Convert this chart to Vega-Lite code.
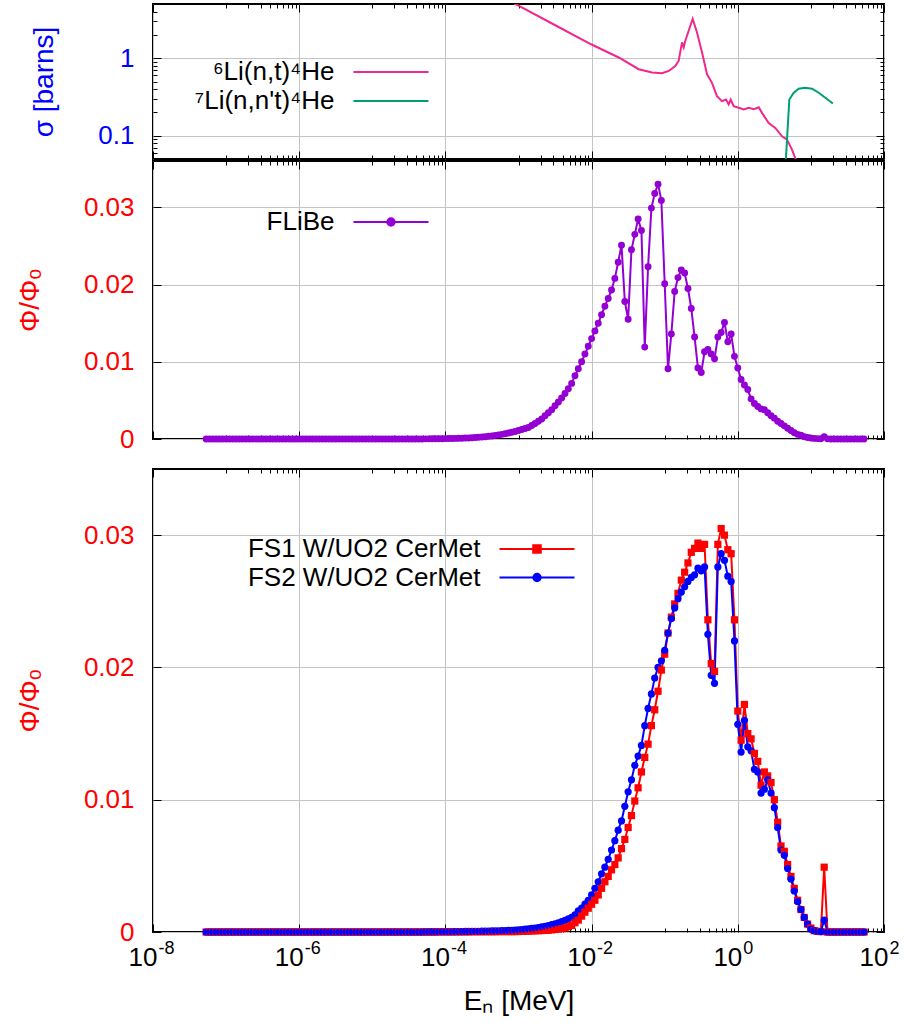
{
  "$schema": "https://vega.github.io/schema/vega-lite/v6.json",
  "padding": {"left": 15, "top": 2, "right": 20, "bottom": 5},
  "config": {
    "font": "Liberation Sans",
    "view": {"stroke": "black", "strokeWidth": 2},
    "axis": {"domain": false, "tickColor": "black", "tickWidth": 1, "gridColor": "#c4c4c4", "gridWidth": 1, "labelFont": "Liberation Sans", "labelFontSize": 26, "titleFont": "Liberation Sans", "titleFontSize": 28, "titleFontWeight": "normal", "labelColor": "black", "titleColor": "black", "labelFlush": false, "labelOverlap": false, "labelBound": false},
    "legend": {"padding": 0, "labelFont": "Liberation Sans", "labelFontSize": 26, "labelColor": "black", "labelAlign": "right", "labelOffset": -69.5, "labelLimit": 0, "symbolSize": 64, "symbolStrokeWidth": 2, "title": null, "orient": "none"}
  },
  "datasets": {
    "xs": [
      {"E": 1e-8, "sigma": 1502, "r": "⁶Li(n,t)⁴He"},
      {"E": 1e-7, "sigma": 475, "r": "⁶Li(n,t)⁴He"},
      {"E": 1e-6, "sigma": 150.2, "r": "⁶Li(n,t)⁴He"},
      {"E": 1e-5, "sigma": 47.5, "r": "⁶Li(n,t)⁴He"},
      {"E": 1e-4, "sigma": 15.02, "r": "⁶Li(n,t)⁴He"},
      {"E": 1e-3, "sigma": 4.75, "r": "⁶Li(n,t)⁴He"},
      {"E": 3e-3, "sigma": 2.74, "r": "⁶Li(n,t)⁴He"},
      {"E": 0.01, "sigma": 1.5, "r": "⁶Li(n,t)⁴He"},
      {"E": 0.0235, "sigma": 1.02, "r": "⁶Li(n,t)⁴He"},
      {"E": 0.0441, "sigma": 0.72, "r": "⁶Li(n,t)⁴He"},
      {"E": 0.067, "sigma": 0.652, "r": "⁶Li(n,t)⁴He"},
      {"E": 0.0918, "sigma": 0.638, "r": "⁶Li(n,t)⁴He"},
      {"E": 0.1135, "sigma": 0.684, "r": "⁶Li(n,t)⁴He"},
      {"E": 0.1396, "sigma": 0.794, "r": "⁶Li(n,t)⁴He"},
      {"E": 0.1552, "sigma": 0.92, "r": "⁶Li(n,t)⁴He"},
      {"E": 0.1726, "sigma": 1.6, "r": "⁶Li(n,t)⁴He"},
      {"E": 0.182, "sigma": 1.38, "r": "⁶Li(n,t)⁴He"},
      {"E": 0.1914, "sigma": 1.68, "r": "⁶Li(n,t)⁴He"},
      {"E": 0.2168, "sigma": 2.38, "r": "⁶Li(n,t)⁴He"},
      {"E": 0.2415, "sigma": 3.21, "r": "⁶Li(n,t)⁴He"},
      {"E": 0.2767, "sigma": 2.15, "r": "⁶Li(n,t)⁴He"},
      {"E": 0.3236, "sigma": 1.19, "r": "⁶Li(n,t)⁴He"},
      {"E": 0.3793, "sigma": 0.62, "r": "⁶Li(n,t)⁴He"},
      {"E": 0.4436, "sigma": 0.48, "r": "⁶Li(n,t)⁴He"},
      {"E": 0.5188, "sigma": 0.324, "r": "⁶Li(n,t)⁴He"},
      {"E": 0.6081, "sigma": 0.279, "r": "⁶Li(n,t)⁴He"},
      {"E": 0.6902, "sigma": 0.293, "r": "⁶Li(n,t)⁴He"},
      {"E": 0.7499, "sigma": 0.253, "r": "⁶Li(n,t)⁴He"},
      {"E": 0.8, "sigma": 0.293, "r": "⁶Li(n,t)⁴He"},
      {"E": 0.879, "sigma": 0.24, "r": "⁶Li(n,t)⁴He"},
      {"E": 1.028, "sigma": 0.229, "r": "⁶Li(n,t)⁴He"},
      {"E": 1.205, "sigma": 0.218, "r": "⁶Li(n,t)⁴He"},
      {"E": 1.409, "sigma": 0.229, "r": "⁶Li(n,t)⁴He"},
      {"E": 1.652, "sigma": 0.22, "r": "⁶Li(n,t)⁴He"},
      {"E": 1.932, "sigma": 0.233, "r": "⁶Li(n,t)⁴He"},
      {"E": 2.143, "sigma": 0.197, "r": "⁶Li(n,t)⁴He"},
      {"E": 2.648, "sigma": 0.146, "r": "⁶Li(n,t)⁴He"},
      {"E": 3.258, "sigma": 0.126, "r": "⁶Li(n,t)⁴He"},
      {"E": 4.027, "sigma": 0.098, "r": "⁶Li(n,t)⁴He"},
      {"E": 4.71, "sigma": 0.089, "r": "⁶Li(n,t)⁴He"},
      {"E": 5.51, "sigma": 0.066, "r": "⁶Li(n,t)⁴He"},
      {"E": 6.12, "sigma": 0.051, "r": "⁶Li(n,t)⁴He"},
      {"E": 7.5, "sigma": 0.04, "r": "⁶Li(n,t)⁴He"},
      {"E": 14.2, "sigma": 0.03, "r": "⁶Li(n,t)⁴He"},
      {"E": 20, "sigma": 0.027, "r": "⁶Li(n,t)⁴He"},
      {"E": 4.3, "sigma": 0.02, "r": "⁷Li(n,n't)⁴He"},
      {"E": 5.07, "sigma": 0.293, "r": "⁷Li(n,n't)⁴He"},
      {"E": 5.82, "sigma": 0.358, "r": "⁷Li(n,n't)⁴He"},
      {"E": 6.81, "sigma": 0.404, "r": "⁷Li(n,n't)⁴He"},
      {"E": 8.38, "sigma": 0.416, "r": "⁷Li(n,n't)⁴He"},
      {"E": 10.35, "sigma": 0.404, "r": "⁷Li(n,n't)⁴He"},
      {"E": 12.79, "sigma": 0.358, "r": "⁷Li(n,n't)⁴He"},
      {"E": 15.74, "sigma": 0.309, "r": "⁷Li(n,n't)⁴He"},
      {"E": 20, "sigma": 0.26, "r": "⁷Li(n,n't)⁴He"}
    ],
    "flux": [
      {"E": 5.335e-8, "FLiBe": 0, "FS1": 0, "FS2": 0},
      {"E": 5.924e-8, "FLiBe": 0, "FS1": 0, "FS2": 0},
      {"E": 6.577e-8, "FLiBe": 0, "FS1": 0, "FS2": 0},
      {"E": 7.303e-8, "FLiBe": 0, "FS1": 0, "FS2": 0},
      {"E": 8.108e-8, "FLiBe": 0, "FS1": 0, "FS2": 0},
      {"E": 9.003e-8, "FLiBe": 0, "FS1": 0, "FS2": 0},
      {"E": 1e-7, "FLiBe": 0, "FS1": 0, "FS2": 0},
      {"E": 1.11e-7, "FLiBe": 0, "FS1": 0, "FS2": 0},
      {"E": 1.233e-7, "FLiBe": 0, "FS1": 0, "FS2": 0},
      {"E": 1.369e-7, "FLiBe": 0, "FS1": 0, "FS2": 0},
      {"E": 1.52e-7, "FLiBe": 0, "FS1": 0, "FS2": 0},
      {"E": 1.688e-7, "FLiBe": 0, "FS1": 0, "FS2": 0},
      {"E": 1.874e-7, "FLiBe": 0, "FS1": 0, "FS2": 0},
      {"E": 2.08e-7, "FLiBe": 0, "FS1": 0, "FS2": 0},
      {"E": 2.31e-7, "FLiBe": 0, "FS1": 0, "FS2": 0},
      {"E": 2.565e-7, "FLiBe": 0, "FS1": 0, "FS2": 0},
      {"E": 2.848e-7, "FLiBe": 0, "FS1": 0, "FS2": 0},
      {"E": 3.162e-7, "FLiBe": 0, "FS1": 0, "FS2": 0},
      {"E": 3.51e-7, "FLiBe": 0, "FS1": 0, "FS2": 0},
      {"E": 3.898e-7, "FLiBe": 0, "FS1": 0, "FS2": 0},
      {"E": 4.328e-7, "FLiBe": 0, "FS1": 0, "FS2": 0},
      {"E": 4.805e-7, "FLiBe": 0, "FS1": 0, "FS2": 0},
      {"E": 5.335e-7, "FLiBe": 0, "FS1": 0, "FS2": 0},
      {"E": 5.924e-7, "FLiBe": 0, "FS1": 0, "FS2": 0},
      {"E": 6.577e-7, "FLiBe": 0, "FS1": 0, "FS2": 0},
      {"E": 7.303e-7, "FLiBe": 0, "FS1": 0, "FS2": 0},
      {"E": 8.108e-7, "FLiBe": 0, "FS1": 0, "FS2": 0},
      {"E": 9.003e-7, "FLiBe": 0, "FS1": 0, "FS2": 0},
      {"E": 1e-6, "FLiBe": 0, "FS1": 0, "FS2": 0},
      {"E": 1.11e-6, "FLiBe": 0, "FS1": 0, "FS2": 0},
      {"E": 1.233e-6, "FLiBe": 0, "FS1": 0, "FS2": 0},
      {"E": 1.369e-6, "FLiBe": 0, "FS1": 0, "FS2": 0},
      {"E": 1.52e-6, "FLiBe": 0, "FS1": 0, "FS2": 0},
      {"E": 1.688e-6, "FLiBe": 0, "FS1": 0, "FS2": 0},
      {"E": 1.874e-6, "FLiBe": 0, "FS1": 0, "FS2": 0},
      {"E": 2.08e-6, "FLiBe": 0, "FS1": 0, "FS2": 0},
      {"E": 2.31e-6, "FLiBe": 0, "FS1": 0, "FS2": 0},
      {"E": 2.565e-6, "FLiBe": 0, "FS1": 0, "FS2": 0},
      {"E": 2.848e-6, "FLiBe": 0, "FS1": 0, "FS2": 0},
      {"E": 3.162e-6, "FLiBe": 0, "FS1": 0, "FS2": 0},
      {"E": 3.51e-6, "FLiBe": 0, "FS1": 0, "FS2": 0},
      {"E": 3.898e-6, "FLiBe": 0, "FS1": 0, "FS2": 0},
      {"E": 4.328e-6, "FLiBe": 0, "FS1": 0, "FS2": 0},
      {"E": 4.805e-6, "FLiBe": 0, "FS1": 0, "FS2": 0},
      {"E": 5.335e-6, "FLiBe": 0, "FS1": 0, "FS2": 0},
      {"E": 5.924e-6, "FLiBe": 0, "FS1": 0, "FS2": 0},
      {"E": 6.577e-6, "FLiBe": 0, "FS1": 0, "FS2": 0},
      {"E": 7.303e-6, "FLiBe": 0, "FS1": 0, "FS2": 0},
      {"E": 8.108e-6, "FLiBe": 0, "FS1": 0, "FS2": 0},
      {"E": 9.003e-6, "FLiBe": 0, "FS1": 0, "FS2": 0},
      {"E": 1e-5, "FLiBe": 0, "FS1": 0, "FS2": 0},
      {"E": 1.11e-5, "FLiBe": 0, "FS1": 0, "FS2": 0},
      {"E": 1.233e-5, "FLiBe": 0, "FS1": 0, "FS2": 0},
      {"E": 1.369e-5, "FLiBe": 0, "FS1": 0, "FS2": 0},
      {"E": 1.52e-5, "FLiBe": 0, "FS1": 0, "FS2": 0},
      {"E": 1.688e-5, "FLiBe": 0, "FS1": 0, "FS2": 0},
      {"E": 1.874e-5, "FLiBe": 0, "FS1": 0, "FS2": 0},
      {"E": 2.08e-5, "FLiBe": 0, "FS1": 0, "FS2": 0},
      {"E": 2.31e-5, "FLiBe": 0, "FS1": 0, "FS2": 0},
      {"E": 2.565e-5, "FLiBe": 0, "FS1": 0, "FS2": 0},
      {"E": 2.848e-5, "FLiBe": 0, "FS1": 0, "FS2": 0},
      {"E": 3.162e-5, "FLiBe": 0, "FS1": 0, "FS2": 0},
      {"E": 3.51e-5, "FLiBe": 0, "FS1": 0, "FS2": 0},
      {"E": 3.898e-5, "FLiBe": 0.00001, "FS1": 0, "FS2": 0},
      {"E": 4.328e-5, "FLiBe": 0.00001, "FS1": 0, "FS2": 0},
      {"E": 4.805e-5, "FLiBe": 0.00001, "FS1": 0, "FS2": 0},
      {"E": 5.335e-5, "FLiBe": 0.00002, "FS1": 0, "FS2": 0.00001},
      {"E": 5.924e-5, "FLiBe": 0.00002, "FS1": 0, "FS2": 0.00001},
      {"E": 6.577e-5, "FLiBe": 0.00003, "FS1": 0, "FS2": 0.00001},
      {"E": 7.303e-5, "FLiBe": 0.00003, "FS1": 0, "FS2": 0.00001},
      {"E": 8.108e-5, "FLiBe": 0.00004, "FS1": 0.00001, "FS2": 0.00002},
      {"E": 9.003e-5, "FLiBe": 0.00004, "FS1": 0.00001, "FS2": 0.00002},
      {"E": 1e-4, "FLiBe": 0.00005, "FS1": 0.00001, "FS2": 0.00002},
      {"E": 1.11e-4, "FLiBe": 0.00006, "FS1": 0.00001, "FS2": 0.00002},
      {"E": 1.233e-4, "FLiBe": 0.00007, "FS1": 0.00001, "FS2": 0.00002},
      {"E": 1.369e-4, "FLiBe": 0.00008, "FS1": 0.00001, "FS2": 0.00003},
      {"E": 1.52e-4, "FLiBe": 0.00009, "FS1": 0.00001, "FS2": 0.00003},
      {"E": 1.688e-4, "FLiBe": 0.0001, "FS1": 0.00001, "FS2": 0.00003},
      {"E": 1.874e-4, "FLiBe": 0.00012, "FS1": 0.00001, "FS2": 0.00004},
      {"E": 2.08e-4, "FLiBe": 0.00014, "FS1": 0.00001, "FS2": 0.00004},
      {"E": 2.31e-4, "FLiBe": 0.00016, "FS1": 0.00002, "FS2": 0.00004},
      {"E": 2.565e-4, "FLiBe": 0.00019, "FS1": 0.00002, "FS2": 0.00005},
      {"E": 2.848e-4, "FLiBe": 0.00022, "FS1": 0.00002, "FS2": 0.00005},
      {"E": 3.162e-4, "FLiBe": 0.00026, "FS1": 0.00002, "FS2": 0.00006},
      {"E": 3.51e-4, "FLiBe": 0.0003, "FS1": 0.00002, "FS2": 0.00006},
      {"E": 3.898e-4, "FLiBe": 0.00035, "FS1": 0.00002, "FS2": 0.00007},
      {"E": 4.328e-4, "FLiBe": 0.0004, "FS1": 0.00002, "FS2": 0.00008},
      {"E": 4.805e-4, "FLiBe": 0.00046, "FS1": 0.00002, "FS2": 0.00008},
      {"E": 5.335e-4, "FLiBe": 0.00052, "FS1": 0.00003, "FS2": 0.00009},
      {"E": 5.924e-4, "FLiBe": 0.0006, "FS1": 0.00003, "FS2": 0.0001},
      {"E": 6.577e-4, "FLiBe": 0.00068, "FS1": 0.00003, "FS2": 0.00011},
      {"E": 7.303e-4, "FLiBe": 0.00077, "FS1": 0.00003, "FS2": 0.00012},
      {"E": 8.108e-4, "FLiBe": 0.00087, "FS1": 0.00003, "FS2": 0.00013},
      {"E": 9.003e-4, "FLiBe": 0.00098, "FS1": 0.00003, "FS2": 0.00015},
      {"E": 1e-3, "FLiBe": 0.0011, "FS1": 0.00004, "FS2": 0.00017},
      {"E": 1.11e-3, "FLiBe": 0.00122, "FS1": 0.00005, "FS2": 0.00019},
      {"E": 1.233e-3, "FLiBe": 0.00135, "FS1": 0.00006, "FS2": 0.00021},
      {"E": 1.369e-3, "FLiBe": 0.0015, "FS1": 0.00007, "FS2": 0.00024},
      {"E": 1.52e-3, "FLiBe": 0.00175, "FS1": 0.00008, "FS2": 0.00027},
      {"E": 1.688e-3, "FLiBe": 0.002, "FS1": 0.00009, "FS2": 0.0003},
      {"E": 1.874e-3, "FLiBe": 0.0023, "FS1": 0.0001, "FS2": 0.00034},
      {"E": 2.08e-3, "FLiBe": 0.0026, "FS1": 0.00011, "FS2": 0.00038},
      {"E": 2.31e-3, "FLiBe": 0.003, "FS1": 0.00012, "FS2": 0.00043},
      {"E": 2.565e-3, "FLiBe": 0.0034, "FS1": 0.00014, "FS2": 0.00049},
      {"E": 2.848e-3, "FLiBe": 0.0038, "FS1": 0.00016, "FS2": 0.00055},
      {"E": 3.162e-3, "FLiBe": 0.0043, "FS1": 0.00019, "FS2": 0.00062},
      {"E": 3.51e-3, "FLiBe": 0.0048, "FS1": 0.00022, "FS2": 0.0007},
      {"E": 3.898e-3, "FLiBe": 0.0053, "FS1": 0.00026, "FS2": 0.00078},
      {"E": 4.328e-3, "FLiBe": 0.0059, "FS1": 0.0003, "FS2": 0.00088},
      {"E": 4.805e-3, "FLiBe": 0.0065, "FS1": 0.0004, "FS2": 0.001},
      {"E": 5.335e-3, "FLiBe": 0.0072, "FS1": 0.0005, "FS2": 0.0011},
      {"E": 5.924e-3, "FLiBe": 0.0082, "FS1": 0.0007, "FS2": 0.0013},
      {"E": 6.577e-3, "FLiBe": 0.0091, "FS1": 0.0009, "FS2": 0.0016},
      {"E": 7.303e-3, "FLiBe": 0.01, "FS1": 0.0012, "FS2": 0.0018},
      {"E": 8.108e-3, "FLiBe": 0.011, "FS1": 0.0015, "FS2": 0.0021},
      {"E": 9.003e-3, "FLiBe": 0.012, "FS1": 0.0018, "FS2": 0.0024},
      {"E": 0.01, "FLiBe": 0.013, "FS1": 0.0021, "FS2": 0.0028},
      {"E": 0.0111, "FLiBe": 0.014, "FS1": 0.0024, "FS2": 0.0033},
      {"E": 0.01233, "FLiBe": 0.015, "FS1": 0.0028, "FS2": 0.0038},
      {"E": 0.01369, "FLiBe": 0.0161, "FS1": 0.0033, "FS2": 0.0044},
      {"E": 0.0152, "FLiBe": 0.0172, "FS1": 0.0038, "FS2": 0.0049},
      {"E": 0.01688, "FLiBe": 0.0182, "FS1": 0.0042, "FS2": 0.0055},
      {"E": 0.01874, "FLiBe": 0.0193, "FS1": 0.0047, "FS2": 0.0062},
      {"E": 0.0208, "FLiBe": 0.0208, "FS1": 0.0051, "FS2": 0.0069},
      {"E": 0.0231, "FLiBe": 0.0229, "FS1": 0.0056, "FS2": 0.0077},
      {"E": 0.02565, "FLiBe": 0.0251, "FS1": 0.0063, "FS2": 0.0084},
      {"E": 0.02848, "FLiBe": 0.0178, "FS1": 0.007, "FS2": 0.0095},
      {"E": 0.03162, "FLiBe": 0.0155, "FS1": 0.0079, "FS2": 0.0106},
      {"E": 0.0351, "FLiBe": 0.0245, "FS1": 0.0088, "FS2": 0.0115},
      {"E": 0.03898, "FLiBe": 0.0265, "FS1": 0.0099, "FS2": 0.0126},
      {"E": 0.04328, "FLiBe": 0.0285, "FS1": 0.0109, "FS2": 0.0133},
      {"E": 0.04805, "FLiBe": 0.027, "FS1": 0.0121, "FS2": 0.0141},
      {"E": 0.05335, "FLiBe": 0.0119, "FS1": 0.0132, "FS2": 0.0156},
      {"E": 0.05924, "FLiBe": 0.0223, "FS1": 0.0142, "FS2": 0.0169},
      {"E": 0.06577, "FLiBe": 0.0299, "FS1": 0.0156, "FS2": 0.018},
      {"E": 0.07303, "FLiBe": 0.0318, "FS1": 0.0168, "FS2": 0.0192},
      {"E": 0.08108, "FLiBe": 0.033, "FS1": 0.0182, "FS2": 0.02},
      {"E": 0.09003, "FLiBe": 0.0309, "FS1": 0.0198, "FS2": 0.0205},
      {"E": 0.1, "FLiBe": 0.0201, "FS1": 0.021, "FS2": 0.0213},
      {"E": 0.111, "FLiBe": 0.0091, "FS1": 0.0226, "FS2": 0.0226},
      {"E": 0.1233, "FLiBe": 0.0136, "FS1": 0.0238, "FS2": 0.0237},
      {"E": 0.1369, "FLiBe": 0.0191, "FS1": 0.0248, "FS2": 0.0245},
      {"E": 0.152, "FLiBe": 0.0209, "FS1": 0.0256, "FS2": 0.0252},
      {"E": 0.1688, "FLiBe": 0.0219, "FS1": 0.0266, "FS2": 0.0257},
      {"E": 0.1874, "FLiBe": 0.0215, "FS1": 0.0272, "FS2": 0.0261},
      {"E": 0.208, "FLiBe": 0.0195, "FS1": 0.0279, "FS2": 0.0265},
      {"E": 0.231, "FLiBe": 0.0169, "FS1": 0.0287, "FS2": 0.0268},
      {"E": 0.2565, "FLiBe": 0.0132, "FS1": 0.029, "FS2": 0.027},
      {"E": 0.2848, "FLiBe": 0.0092, "FS1": 0.0294, "FS2": 0.0275},
      {"E": 0.3162, "FLiBe": 0.0086, "FS1": 0.029, "FS2": 0.0273},
      {"E": 0.351, "FLiBe": 0.0113, "FS1": 0.0293, "FS2": 0.0276},
      {"E": 0.3898, "FLiBe": 0.0116, "FS1": 0.0236, "FS2": 0.0225},
      {"E": 0.4328, "FLiBe": 0.011, "FS1": 0.0203, "FS2": 0.0194},
      {"E": 0.4805, "FLiBe": 0.0104, "FS1": 0.0197, "FS2": 0.0188},
      {"E": 0.5335, "FLiBe": 0.0132, "FS1": 0.0293, "FS2": 0.0276},
      {"E": 0.5924, "FLiBe": 0.0138, "FS1": 0.0305, "FS2": 0.0286},
      {"E": 0.6577, "FLiBe": 0.0151, "FS1": 0.03, "FS2": 0.0281},
      {"E": 0.7303, "FLiBe": 0.0126, "FS1": 0.0289, "FS2": 0.0269},
      {"E": 0.8108, "FLiBe": 0.0136, "FS1": 0.0286, "FS2": 0.0265},
      {"E": 0.9003, "FLiBe": 0.0107, "FS1": 0.0236, "FS2": 0.022},
      {"E": 1, "FLiBe": 0.0092, "FS1": 0.0167, "FS2": 0.0157},
      {"E": 1.11, "FLiBe": 0.0077, "FS1": 0.0145, "FS2": 0.0136},
      {"E": 1.233, "FLiBe": 0.007, "FS1": 0.0172, "FS2": 0.016},
      {"E": 1.369, "FLiBe": 0.0064, "FS1": 0.015, "FS2": 0.014},
      {"E": 1.52, "FLiBe": 0.0052, "FS1": 0.0146, "FS2": 0.0137},
      {"E": 1.688, "FLiBe": 0.0046, "FS1": 0.0135, "FS2": 0.0123},
      {"E": 1.874, "FLiBe": 0.0042, "FS1": 0.0129, "FS2": 0.0121},
      {"E": 2.08, "FLiBe": 0.0039, "FS1": 0.0111, "FS2": 0.0105},
      {"E": 2.31, "FLiBe": 0.0038, "FS1": 0.0121, "FS2": 0.0108},
      {"E": 2.565, "FLiBe": 0.0034, "FS1": 0.0118, "FS2": 0.0115},
      {"E": 2.848, "FLiBe": 0.003, "FS1": 0.0113, "FS2": 0.0105},
      {"E": 3.162, "FLiBe": 0.0027, "FS1": 0.01, "FS2": 0.0094},
      {"E": 3.51, "FLiBe": 0.0023, "FS1": 0.0083, "FS2": 0.0079},
      {"E": 3.898, "FLiBe": 0.002, "FS1": 0.0065, "FS2": 0.0062},
      {"E": 4.328, "FLiBe": 0.0017, "FS1": 0.0061, "FS2": 0.0058},
      {"E": 4.805, "FLiBe": 0.0014, "FS1": 0.0051, "FS2": 0.0048},
      {"E": 5.335, "FLiBe": 0.0011, "FS1": 0.0042, "FS2": 0.004},
      {"E": 5.924, "FLiBe": 0.0008, "FS1": 0.0033, "FS2": 0.0031},
      {"E": 6.577, "FLiBe": 0.0006, "FS1": 0.0024, "FS2": 0.0023},
      {"E": 7.303, "FLiBe": 0.0005, "FS1": 0.0017, "FS2": 0.0017},
      {"E": 8.108, "FLiBe": 0.0003, "FS1": 0.0011, "FS2": 0.0011},
      {"E": 9.003, "FLiBe": 0.0002, "FS1": 0.0006, "FS2": 0.0006},
      {"E": 10, "FLiBe": 0.00013, "FS1": 0.0003, "FS2": 0.0002},
      {"E": 11.1, "FLiBe": 0.00008, "FS1": 0.0001, "FS2": 0.0001},
      {"E": 12.33, "FLiBe": 0.00005, "FS1": 0.00005, "FS2": 0.00005},
      {"E": 13.69, "FLiBe": 0.00004, "FS1": 0.00003, "FS2": 0.00003},
      {"E": 15.2, "FLiBe": 0.0003, "FS1": 0.0049, "FS2": 0.0009},
      {"E": 16.88, "FLiBe": 0.00002, "FS1": 0, "FS2": 0},
      {"E": 18.74, "FLiBe": 0, "FS1": 0, "FS2": 0},
      {"E": 20.8, "FLiBe": 0, "FS1": 0, "FS2": 0},
      {"E": 23.1, "FLiBe": 0, "FS1": 0, "FS2": 0},
      {"E": 25.65, "FLiBe": 0, "FS1": 0, "FS2": 0},
      {"E": 28.48, "FLiBe": 0, "FS1": 0, "FS2": 0},
      {"E": 31.62, "FLiBe": 0, "FS1": 0, "FS2": 0},
      {"E": 35.1, "FLiBe": 0, "FS1": 0, "FS2": 0},
      {"E": 38.98, "FLiBe": 0, "FS1": 0, "FS2": 0},
      {"E": 43.28, "FLiBe": 0, "FS1": 0, "FS2": 0},
      {"E": 48.05, "FLiBe": 0, "FS1": 0, "FS2": 0},
      {"E": 53.35, "FLiBe": 0, "FS1": 0, "FS2": 0}
    ]
  },
  "spacing": 14,
  "resolve": {"scale": {"x": "independent", "y": "independent", "color": "independent"}, "legend": {"color": "independent"}},
  "vconcat": [
    {
      "spacing": -3,
      "resolve": {"scale": {"x": "independent", "y": "independent", "color": "independent"}, "legend": {"color": "independent"}},
      "vconcat": [
        {
          "width": 731,
          "height": 155,
          "data": {"name": "xs"},
          "resolve": {"axis": {"x": "independent", "y": "independent"}},
          "layer": [
            {
              "mark": {"type": "line", "clip": true, "strokeWidth": 2},
              "encoding": {
                "x": {"field": "E", "type": "quantitative", "scale": {"type": "log", "domain": [1e-8, 100]},
                  "axis": {"orient": "bottom", "values": [1e-8, 1e-6, 1e-4, 0.01, 1, 100], "grid": true, "labels": false, "tickSize": -8, "title": null}},
                "y": {"field": "sigma", "type": "quantitative", "scale": {"type": "log", "domain": [0.05, 5]},
                  "axis": {"orient": "left", "values": [0.1, 1], "grid": true, "tickSize": -8, "labelPadding": 27, "labelColor": "#0000ff", "labelExpr": "datum.value >= 1 ? '1' : '0.1'", "title": "σ [barns]", "titleColor": "#0000ff", "titlePadding": 39}},
                "color": {"field": "r", "type": "nominal",
                  "scale": {"domain": ["⁶Li(n,t)⁴He", "⁷Li(n,n't)⁴He"], "range": ["#f0288c", "#009e73"]},
                  "legend": {"legendX": 225, "legendY": 55, "rowPadding": 3, "symbolType": "M-9.375,0H9.375",
                    "encode": {"symbols": {"update": {"strokeWidth": {"value": 2}}}}}}
              }
            },
            {
              "mark": {"type": "point", "opacity": 0, "clip": true},
              "encoding": {
                "x": {"field": "E", "type": "quantitative", "scale": {"type": "log", "domain": [1e-8, 100]},
                  "axis": {"orient": "top", "values": [1e-8, 1e-6, 1e-4, 0.01, 1, 100], "grid": false, "labels": false, "tickSize": -8, "title": null}},
                "y": {"field": "sigma", "type": "quantitative", "scale": {"type": "log", "domain": [0.05, 5]},
                  "axis": {"orient": "right", "values": [0.1, 1], "grid": false, "labels": false, "tickSize": -8, "title": null}}
              }
            },
            {
              "mark": {"type": "point", "opacity": 0, "clip": true},
              "encoding": {
                "x": {"field": "E", "type": "quantitative", "scale": {"type": "log", "domain": [1e-8, 100]},
                  "axis": {"orient": "bottom", "values": [1e-7, 2e-7, 3e-7, 4e-7, 5e-7, 6e-7, 7e-7, 8e-7, 9e-7, 1e-5, 2e-5, 3e-5, 4e-5, 5e-5, 6e-5, 7e-5, 8e-5, 9e-5, 0.001, 0.002, 0.003, 0.004, 0.005, 0.006, 0.007, 0.008, 0.009, 0.1, 0.2, 0.3, 0.4, 0.5, 0.6, 0.7, 0.8, 0.9, 10, 20, 30, 40, 50, 60, 70, 80, 90], "grid": false, "labels": false, "tickSize": -4, "title": null}},
                "y": {"field": "sigma", "type": "quantitative", "scale": {"type": "log", "domain": [0.05, 5]},
                  "axis": {"orient": "left", "values": [0.06, 0.07, 0.08, 0.09, 0.2, 0.3, 0.4, 0.5, 0.6, 0.7, 0.8, 0.9, 2, 3, 4], "grid": false, "labels": false, "tickSize": -4, "title": null}}
              }
            },
            {
              "mark": {"type": "point", "opacity": 0, "clip": true},
              "encoding": {
                "x": {"field": "E", "type": "quantitative", "scale": {"type": "log", "domain": [1e-8, 100]},
                  "axis": {"orient": "top", "values": [1e-7, 2e-7, 3e-7, 4e-7, 5e-7, 6e-7, 7e-7, 8e-7, 9e-7, 1e-5, 2e-5, 3e-5, 4e-5, 5e-5, 6e-5, 7e-5, 8e-5, 9e-5, 0.001, 0.002, 0.003, 0.004, 0.005, 0.006, 0.007, 0.008, 0.009, 0.1, 0.2, 0.3, 0.4, 0.5, 0.6, 0.7, 0.8, 0.9, 10, 20, 30, 40, 50, 60, 70, 80, 90], "grid": false, "labels": false, "tickSize": -4, "title": null}},
                "y": {"field": "sigma", "type": "quantitative", "scale": {"type": "log", "domain": [0.05, 5]},
                  "axis": {"orient": "right", "values": [0.06, 0.07, 0.08, 0.09, 0.2, 0.3, 0.4, 0.5, 0.6, 0.7, 0.8, 0.9, 2, 3, 4], "grid": false, "labels": false, "tickSize": -4, "title": null}}
              }
            }
          ]
        },
        {
          "width": 731,
          "height": 278,
          "data": {"name": "flux"},
          "resolve": {"axis": {"x": "independent", "y": "independent"}},
          "layer": [
            {
              "mark": {"type": "line", "strokeWidth": 2, "point": {"filled": true, "size": 48, "opacity": 1}},
              "encoding": {
                "x": {"field": "E", "type": "quantitative", "scale": {"type": "log", "domain": [1e-8, 100]},
                  "axis": {"orient": "bottom", "values": [1e-8, 1e-6, 1e-4, 0.01, 1, 100], "grid": true, "labels": false, "tickSize": -8, "title": null}},
                "y": {"field": "FLiBe", "type": "quantitative", "scale": {"domain": [0, 0.036], "nice": false},
                  "axis": {"orient": "left", "values": [0, 0.01, 0.02, 0.03], "grid": true, "tickSize": -8, "labelPadding": 27, "labelColor": "#ff0000", "labelExpr": "datum.value == 0 ? '0' : format(datum.value, '.2f')", "title": "Φ/Φₒ", "titleColor": "#ff0000", "titlePadding": 39}},
                "color": {"datum": "FLiBe", "type": "nominal",
                  "scale": {"domain": ["FLiBe"], "range": ["#9400d3"]},
                  "legend": {"legendX": 225, "legendY": 48, "symbolType": "M-9.375,0H9.375M0.92,0A0.92,0.92,0,1,1,-0.92,0A0.92,0.92,0,1,1,0.92,0",
                    "encode": {"symbols": {"update": {"strokeWidth": {"value": 2}, "fill": {"value": "#9400d3"}, "stroke": {"value": "#9400d3"}, "opacity": {"value": 1}}}}}}
              }
            },
            {
              "mark": {"type": "point", "opacity": 0},
              "encoding": {
                "x": {"field": "E", "type": "quantitative", "scale": {"type": "log", "domain": [1e-8, 100]},
                  "axis": {"orient": "top", "values": [1e-8, 1e-6, 1e-4, 0.01, 1, 100], "grid": false, "labels": false, "tickSize": -8, "title": null}},
                "y": {"field": "FLiBe", "type": "quantitative", "scale": {"domain": [0, 0.036], "nice": false},
                  "axis": {"orient": "right", "values": [0, 0.01, 0.02, 0.03], "grid": false, "labels": false, "tickSize": -8, "title": null}}
              }
            },
            {
              "mark": {"type": "point", "opacity": 0},
              "encoding": {
                "x": {"field": "E", "type": "quantitative", "scale": {"type": "log", "domain": [1e-8, 100]},
                  "axis": {"orient": "bottom", "values": [1e-7, 2e-7, 3e-7, 4e-7, 5e-7, 6e-7, 7e-7, 8e-7, 9e-7, 1e-5, 2e-5, 3e-5, 4e-5, 5e-5, 6e-5, 7e-5, 8e-5, 9e-5, 0.001, 0.002, 0.003, 0.004, 0.005, 0.006, 0.007, 0.008, 0.009, 0.1, 0.2, 0.3, 0.4, 0.5, 0.6, 0.7, 0.8, 0.9, 10, 20, 30, 40, 50, 60, 70, 80, 90], "grid": false, "labels": false, "tickSize": -4, "title": null}},
                "y": {"field": "FLiBe", "type": "quantitative", "scale": {"domain": [0, 0.036], "nice": false}, "axis": null}
              }
            },
            {
              "mark": {"type": "point", "opacity": 0},
              "encoding": {
                "x": {"field": "E", "type": "quantitative", "scale": {"type": "log", "domain": [1e-8, 100]},
                  "axis": {"orient": "top", "values": [1e-7, 2e-7, 3e-7, 4e-7, 5e-7, 6e-7, 7e-7, 8e-7, 9e-7, 1e-5, 2e-5, 3e-5, 4e-5, 5e-5, 6e-5, 7e-5, 8e-5, 9e-5, 0.001, 0.002, 0.003, 0.004, 0.005, 0.006, 0.007, 0.008, 0.009, 0.1, 0.2, 0.3, 0.4, 0.5, 0.6, 0.7, 0.8, 0.9, 10, 20, 30, 40, 50, 60, 70, 80, 90], "grid": false, "labels": false, "tickSize": -4, "title": null}},
                "y": {"field": "FLiBe", "type": "quantitative", "scale": {"domain": [0, 0.036], "nice": false}, "axis": null}
              }
            }
          ]
        }
      ]
    },
    {
      "width": 731,
      "height": 463,
      "data": {"name": "flux"},
      "transform": [{"fold": ["FS1", "FS2"], "as": ["series", "phi"]}],
      "resolve": {"axis": {"x": "independent", "y": "independent"}},
      "layer": [
        {
          "mark": {"type": "line", "strokeWidth": 2, "point": {"filled": true, "size": 52, "opacity": 1}},
          "encoding": {
            "x": {"field": "E", "type": "quantitative", "scale": {"type": "log", "domain": [1e-8, 100]},
              "axis": {"orient": "bottom", "values": [1e-8, 1e-6, 1e-4, 0.01, 1, 100], "grid": true, "labels": true, "tickSize": -8, "labelPadding": 20, "labelAlign": "right", "labelOffset": 4,
                "labelExpr": "'10'",
                "title": "Eₙ [MeV]", "titlePadding": 17}},
            "y": {"field": "phi", "type": "quantitative", "scale": {"domain": [0, 0.035], "nice": false},
              "axis": {"orient": "left", "values": [0, 0.01, 0.02, 0.03], "grid": true, "tickSize": -8, "labelPadding": 27, "labelColor": "#ff0000", "labelExpr": "datum.value == 0 ? '0' : format(datum.value, '.2f')", "title": "Φ/Φₒ", "titleColor": "#ff0000", "titlePadding": 39}},
            "color": {"field": "series", "type": "nominal",
              "scale": {"domain": ["FS1", "FS2"], "range": ["#ff0000", "#0000ff"]},
              "legend": {"legendX": 371, "legendY": 67, "rowPadding": 2.5, "labelExpr": "datum.label + ' W/UO2 CerMet'",
                "encode": {"symbols": {"update": {
                  "shape": {"signal": "datum.value === 'FS1' ? 'M-9.375,0H9.375M-0.95,-0.95H0.95V0.95H-0.95Z' : 'M-9.375,0H9.375M0.92,0A0.92,0.92,0,1,1,-0.92,0A0.92,0.92,0,1,1,0.92,0'"},
                  "fill": {"signal": "datum.value === 'FS1' ? '#ff0000' : '#0000ff'"},
                  "stroke": {"signal": "datum.value === 'FS1' ? '#ff0000' : '#0000ff'"},
                  "strokeWidth": {"value": 2}, "opacity": {"value": 1}}}}}},
            "shape": {"field": "series", "type": "nominal", "scale": {"domain": ["FS1", "FS2"], "range": ["square", "circle"]}, "legend": null}
          }
        },
        {
          "mark": {"type": "point", "opacity": 0},
          "encoding": {
            "x": {"field": "E", "type": "quantitative", "scale": {"type": "log", "domain": [1e-8, 100]},
              "axis": {"orient": "top", "values": [1e-8, 1e-6, 1e-4, 0.01, 1, 100], "grid": false, "labels": false, "tickSize": -8, "title": null}},
            "y": {"field": "phi", "type": "quantitative", "scale": {"domain": [0, 0.035], "nice": false},
              "axis": {"orient": "right", "values": [0, 0.01, 0.02, 0.03], "grid": false, "labels": false, "tickSize": -8, "title": null}}
          }
        },
        {
          "mark": {"type": "point", "opacity": 0},
          "encoding": {
            "x": {"field": "E", "type": "quantitative", "scale": {"type": "log", "domain": [1e-8, 100]},
              "axis": {"orient": "bottom", "values": [1e-7, 2e-7, 3e-7, 4e-7, 5e-7, 6e-7, 7e-7, 8e-7, 9e-7, 1e-5, 2e-5, 3e-5, 4e-5, 5e-5, 6e-5, 7e-5, 8e-5, 9e-5, 0.001, 0.002, 0.003, 0.004, 0.005, 0.006, 0.007, 0.008, 0.009, 0.1, 0.2, 0.3, 0.4, 0.5, 0.6, 0.7, 0.8, 0.9, 10, 20, 30, 40, 50, 60, 70, 80, 90], "grid": false, "labels": false, "tickSize": -4, "title": null}},
            "y": {"field": "phi", "type": "quantitative", "scale": {"domain": [0, 0.035], "nice": false}, "axis": null}
          }
        },
        {
          "mark": {"type": "point", "opacity": 0},
          "encoding": {
            "x": {"field": "E", "type": "quantitative", "scale": {"type": "log", "domain": [1e-8, 100]},
              "axis": {"orient": "top", "values": [1e-7, 2e-7, 3e-7, 4e-7, 5e-7, 6e-7, 7e-7, 8e-7, 9e-7, 1e-5, 2e-5, 3e-5, 4e-5, 5e-5, 6e-5, 7e-5, 8e-5, 9e-5, 0.001, 0.002, 0.003, 0.004, 0.005, 0.006, 0.007, 0.008, 0.009, 0.1, 0.2, 0.3, 0.4, 0.5, 0.6, 0.7, 0.8, 0.9, 10, 20, 30, 40, 50, 60, 70, 80, 90], "grid": false, "labels": false, "tickSize": -4, "title": null}},
            "y": {"field": "phi", "type": "quantitative", "scale": {"domain": [0, 0.035], "nice": false}, "axis": null}
          }
        },
        {
          "mark": {"type": "point", "opacity": 0},
          "encoding": {
            "x": {"field": "E", "type": "quantitative", "scale": {"type": "log", "domain": [1e-8, 100]},
              "axis": {"orient": "bottom", "values": [1e-8, 1e-6, 1e-4, 0.01, 1, 100], "grid": false, "ticks": false, "labels": true, "labelFontSize": 18, "labelPadding": 7, "labelAlign": "left", "labelOffset": 5,
                "labelExpr": "datum.value < 1e-7 ? '-8' : datum.value < 1e-5 ? '-6' : datum.value < 1e-3 ? '-4' : datum.value < 0.1 ? '-2' : datum.value < 10 ? '0' : '2'",
                "title": null}},
            "y": {"field": "phi", "type": "quantitative", "scale": {"domain": [0, 0.035], "nice": false}, "axis": null}
          }
        }
      ]
    }
  ]
}
